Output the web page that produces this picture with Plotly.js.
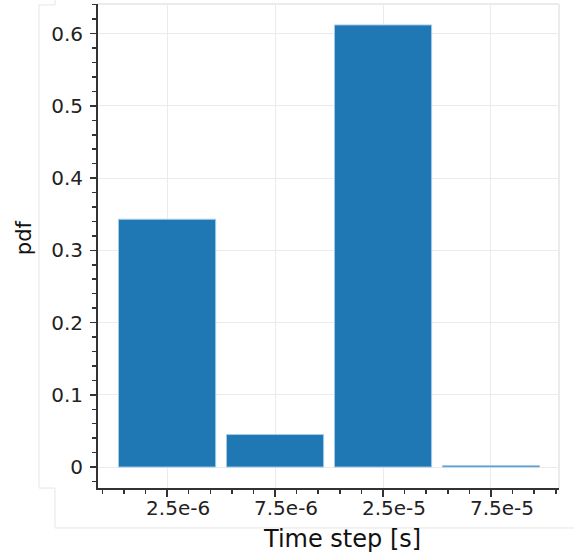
<!DOCTYPE html>
<html>
<head>
<meta charset="utf-8">
<script src="https://cdn.plot.ly/plotly-3.0.1.min.js"></script>
<style>html,body{margin:0;padding:0;background:#fff;}#chart{width:574px;height:558px;}</style>
</head>
<body>
<div id="chart"></div>
<script>
const categories = ["2.5e-6", "7.5e-6", "2.5e-5", "7.5e-5"];
const pdfValues = [0.343, 0.045, 0.612, 0.002];
const xTitle = "Time step [s]";
const yTitle = "pdf";
const xPositions = categories.map((c, i) => i);

const frame = '#e6e6e6';
const trace = {
  type: 'bar',
  x: xPositions,
  y: pdfValues,
  width: 0.9,
  marker: {color: '#1f77b4', line: {color: '#a6cbe8', width: 1}},
  hoverinfo: 'skip'
};

const layout = {
  width: 574, height: 558,
  margin: {l: 98, r: 15, t: 4, b: 70},
  paper_bgcolor: '#fff', plot_bgcolor: '#fff',
  font: {family: 'DejaVu Sans', color: '#222'},
  showlegend: false,
  xaxis: {
    type: 'linear',
    range: [-0.64, 3.63],
    tickmode: 'array', tickvals: xPositions, ticktext: categories,
    ticks: 'outside', ticklen: 7, tickwidth: 1.5, tickcolor: '#333',
    ticklabelshift: 11, ticklabelstandoff: -6,
    showline: true, linecolor: '#333', linewidth: 2,
    showgrid: true, gridcolor: '#ebebeb', gridwidth: 1,
    zeroline: false,
    tickfont: {size: 20, family: 'DejaVu Sans', color: '#222'},
    minor: {tickmode: 'linear', tick0: 0, dtick: 0.2, ticks: 'outside', ticklen: 4, tickcolor: '#333', tickwidth: 1.5, showgrid: false}
  },
  yaxis: {
    range: [-0.029, 0.641],
    tickmode: 'linear', tick0: 0, dtick: 0.1,
    ticks: 'outside', ticklen: 6, tickwidth: 1.5, tickcolor: '#333',
    ticklabelstandoff: 3,
    showline: true, linecolor: '#333', linewidth: 2,
    showgrid: true, gridcolor: '#ebebeb', gridwidth: 1,
    zeroline: false,
    tickfont: {size: 20, family: 'DejaVu Sans', color: '#222'},
    minor: {tickmode: 'linear', tick0: 0, dtick: 0.02, ticks: 'outside', ticklen: 4, tickcolor: '#333', tickwidth: 1.5, showgrid: false}
  },
  annotations: [
    {text: xTitle, xref: 'paper', yref: 'paper', x: 0.529, y: -0.1047, xanchor: 'center', yanchor: 'middle',
     showarrow: false, font: {size: 24, family: 'DejaVu Sans', color: '#111'}},
    {text: yTitle, xref: 'paper', yref: 'paper', x: -0.159, y: 0.5176, xanchor: 'center', yanchor: 'middle',
     textangle: -90, showarrow: false, font: {size: 21, family: 'DejaVu Sans', color: '#111'}}
  ],
  shapes: [
    {type: 'line', xref: 'paper', yref: 'paper', x0: 0, x1: 1, y0: 1, y1: 1, line: {color: '#ebebeb', width: 2}},
    {type: 'line', xref: 'paper', yref: 'paper', x0: 1, x1: 1, y0: 0, y1: 1, line: {color: '#ebebeb', width: 2}},
    {type: 'path', xref: 'paper', yref: 'paper',
     path: 'M -0.128 0.998 L -0.128 0 L -0.0933 0 L -0.0933 -0.0826 L 1.0325 -0.0826',
     line: {color: frame, width: 1}},
    {type: 'path', xref: 'paper', yref: 'paper',
     path: 'M -0.128 0.998 L -0.0933 0.998 L -0.0933 1.01',
     line: {color: frame, width: 1}}
  ]
};

Plotly.newPlot('chart', [trace], layout, {displayModeBar: false, staticPlot: true});
</script>
</body>
</html>
